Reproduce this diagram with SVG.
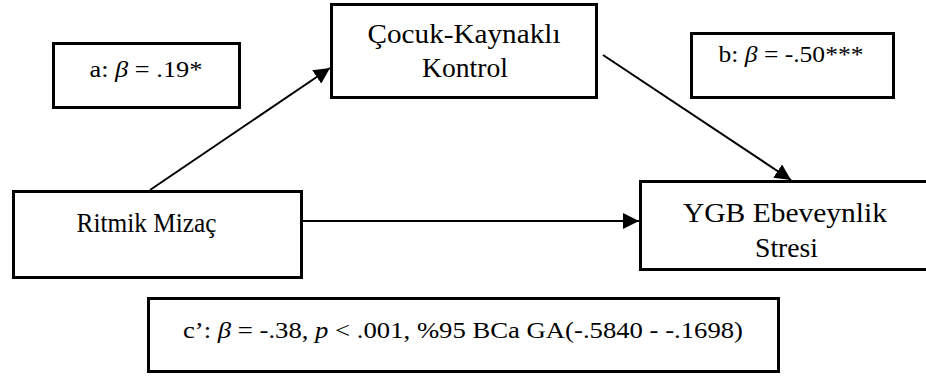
<svg xmlns="http://www.w3.org/2000/svg" width="926" height="376" viewBox="0 0 926 376">
<style>
.box{fill:#fff;stroke:#000;stroke-width:3}
.lbl{font-family:"Liberation Serif","Times New Roman",serif;font-size:28px;fill:#000;text-anchor:middle}
.beta{font-family:"Liberation Serif","Times New Roman",serif;font-size:23px;fill:#000;text-anchor:middle}
.it{font-style:italic}
.conn{stroke:#000;stroke-width:2;fill:none}
</style>
<defs>
<marker id="arr" markerUnits="userSpaceOnUse" markerWidth="17" markerHeight="16" refX="16" refY="8" orient="auto">
<path d="M0,0 L16,8 L0,16 z" fill="#000"/>
</marker>
</defs>
<rect width="926" height="376" fill="#fff"/>
<g id="connectors">
<line class="conn" x1="150" y1="190" x2="330" y2="68" marker-end="url(#arr)"/>
<line class="conn" x1="603" y1="55" x2="791" y2="180" marker-end="url(#arr)"/>
<line class="conn" x1="302" y1="221" x2="639" y2="221" marker-end="url(#arr)"/>
</g>
<g id="label-a">
<rect class="box" x="53.5" y="43.5" width="186" height="64"/>
<text class="beta" x="146" y="77" textLength="113" lengthAdjust="spacingAndGlyphs">a: <tspan class="it">β</tspan> = .19*</text>
</g>
<g id="node-cocuk">
<rect class="box" x="331.5" y="4.5" width="265" height="93"/>
<text class="lbl" x="464" y="43" textLength="193" lengthAdjust="spacingAndGlyphs">Çocuk-Kaynaklı</text>
<text class="lbl" x="465" y="77" textLength="86" lengthAdjust="spacingAndGlyphs">Kontrol</text>
</g>
<g id="label-b">
<rect class="box" x="691.5" y="33.5" width="202" height="64"/>
<text class="beta" x="791" y="62" textLength="145" lengthAdjust="spacingAndGlyphs">b: <tspan class="it">β</tspan> = -.50***</text>
</g>
<g id="node-ritmik">
<rect class="box" x="13.5" y="191.5" width="288" height="86"/>
<text class="lbl" x="146.5" y="232" textLength="140" lengthAdjust="spacingAndGlyphs">Ritmik Mizaç</text>
</g>
<g id="node-ygb">
<rect class="box" x="640.5" y="181.5" width="320" height="88"/>
<text class="lbl" x="785" y="222" textLength="204" lengthAdjust="spacingAndGlyphs">YGB Ebeveynlik</text>
<text class="lbl" x="786.5" y="257" textLength="63" lengthAdjust="spacingAndGlyphs">Stresi</text>
</g>
<g id="label-c">
<rect class="box" x="148.5" y="298.5" width="630" height="73"/>
<text class="beta" x="463" y="338" textLength="560" lengthAdjust="spacingAndGlyphs">c’: <tspan class="it">β</tspan> = -.38, <tspan class="it">p</tspan> &lt; .001, %95 BCa GA(-.5840 - -.1698)</text>
</g>
</svg>
